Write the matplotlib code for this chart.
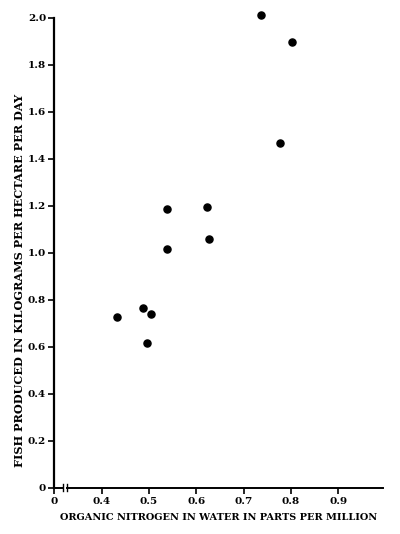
import numpy as np
import matplotlib.pyplot as plt
import matplotlib.transforms as mtransforms

# organic nitrogen (ppm) vs fish produced (kg / hectare / day)
nitrogen = [0.737, 0.802, 0.776, 0.538, 0.623, 0.627, 0.539, 0.488, 0.504, 0.432, 0.495]
fish = [2.012, 1.895, 1.467, 1.184, 1.193, 1.059, 1.015, 0.763, 0.737, 0.725, 0.617]

x_ticks = [0.3, 0.4, 0.5, 0.6, 0.7, 0.8, 0.9]
x_labels = ['0', '0.4', '0.5', '0.6', '0.7', '0.8', '0.9']
y_ticks = [0, 0.2, 0.4, 0.6, 0.8, 1.0, 1.2, 1.4, 1.6, 1.8, 2.0]
y_labels = ['0', '0.2', '0.4', '0.6', '0.8', '1.0', '1.2', '1.4', '1.6', '1.8', '2.0']

plt.rcParams['font.family'] = ['DejaVu Serif']
plt.rcParams['font.weight'] = 'bold'

fig = plt.figure(figsize=(4.0, 5.34), dpi=100)
ax = fig.add_axes([0.136, 0.087, 0.822, 0.88])

ax.scatter(nitrogen, fish, s=26, color='black', zorder=3, clip_on=False)

ax.set_xlim(0.3, 0.995)
ax.set_ylim(0, 2.0)
ax.set_xticks(x_ticks)
ax.set_xticklabels(x_labels, fontweight='bold')
ax.set_yticks(y_ticks)
ax.set_yticklabels(y_labels, fontweight='bold')
ax.tick_params(direction='out', length=4, width=1.2, labelsize=7.5, colors='black')
ax.tick_params(axis='x', pad=3)
ax.tick_params(axis='y', pad=2)

for side in ['top', 'right', 'bottom']:
    ax.spines[side].set_visible(False)
ax.spines['left'].set_linewidth(1.6)

# broken x axis drawn by hand
trans = mtransforms.blended_transform_factory(ax.transData, ax.transAxes)
ax.plot([0.3, 0.318], [0, 0], color='black', lw=1.4, transform=trans, clip_on=False)
ax.plot([0.326, 0.995], [0, 0], color='black', lw=1.4, transform=trans, clip_on=False)
for bx in [0.319, 0.326]:
    ax.plot([bx, bx], [-0.008, 0.008], color='black', lw=1.0, transform=trans, clip_on=False)

ax.set_xlabel('ORGANIC NITROGEN IN WATER IN PARTS PER MILLION', fontsize=7.0,
              fontweight='bold', labelpad=5)
ax.set_ylabel('FISH PRODUCED IN KILOGRAMS PER HECTARE PER DAY', fontsize=8.1,
              fontweight='bold')
ax.yaxis.set_label_coords(-0.088, 0.44)

plt.savefig('out.png', dpi=100)
